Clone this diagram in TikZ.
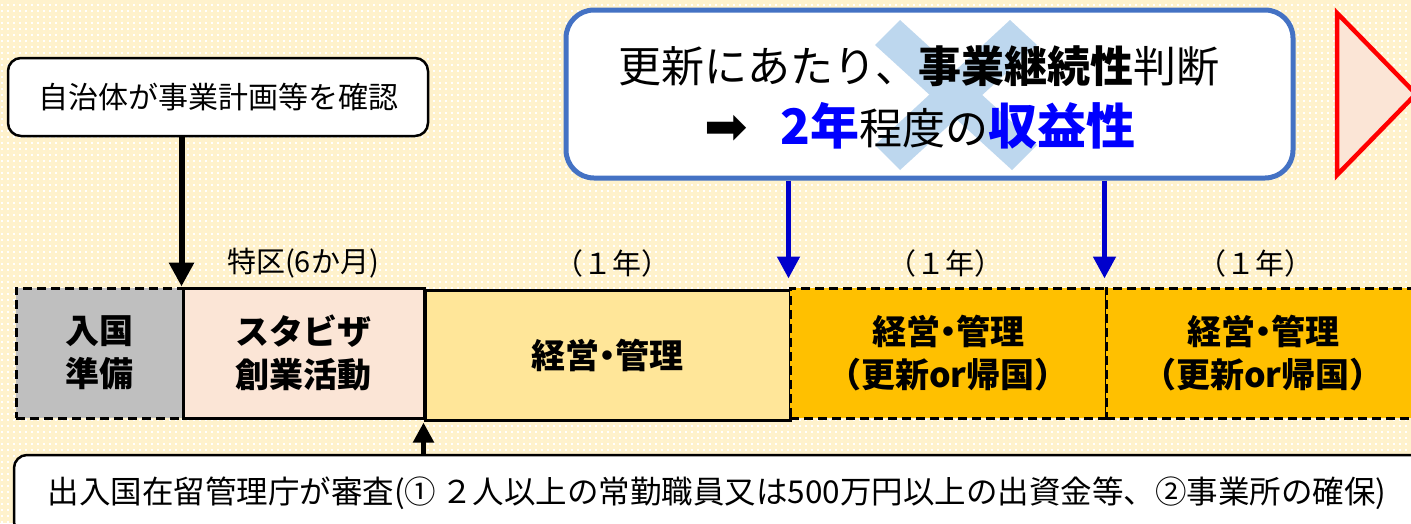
\documentclass[tikz,border=0pt]{standalone}
\usepackage{fontspec}
\setmainfont{Noto Sans CJK JP}
\newfontfamily\symfont{DejaVu Sans}
\usetikzlibrary{arrows.meta,patterns,calc}
\definecolor{bgy}{HTML}{FFF2CC}
\definecolor{greyfill}{HTML}{BFBFBF}
\definecolor{pinkfill}{HTML}{FBE5D6}
\definecolor{lightyel}{HTML}{FFE699}
\definecolor{orangefill}{HTML}{FFC000}
\definecolor{boxblue}{HTML}{4472C4}
\definecolor{arrblue}{HTML}{0000CC}
\definecolor{txtblue}{HTML}{0000FF}
\definecolor{xblue}{HTML}{BDD7EE}
\newcommand{\mdot}{\kern-9pt・\kern-9pt}
\pgfdeclarepatternformonly{wdots}{\pgfqpoint{0pt}{0pt}}{\pgfqpoint{3pt}{3pt}}{\pgfqpoint{6pt}{6pt}}{\pgfpathrectangle{\pgfqpoint{0.5pt}{0.5pt}}{\pgfqpoint{2pt}{2pt}}\pgfusepath{fill}}
\tikzset{
  tbox/.style={draw=black, line width=3pt, minimum height=130pt, align=center,
    inner sep=0pt, font=\fontsize{34}{43}\selectfont\bfseries},
  dashbox/.style={dash pattern=on 9pt off 5pt, line width=3pt},
  lbl/.style={font=\fontsize{29}{33}\selectfont, inner sep=0pt},
  noteb/.style={draw=black, line width=2.5pt, fill=white, rounded corners=13pt, inner sep=0pt},
  blkarrow/.style={line width=6pt, -{Triangle[width=24pt,length=24pt]}},
  bluearrow/.style={arrblue, line width=5pt, -{Triangle[width=22pt,length=22pt]}},
}
\begin{document}
\begin{tikzpicture}[x=1pt,y=-1pt]
\useasboundingbox (0,0) rectangle (1411,523);
\fill[bgy] (0,0) rectangle (1411,523);
\fill[pattern=wdots, pattern color=white] (0,0) rectangle (1411,523);
\clip (0,0) rectangle (1411,523);

% top-left note
\node[noteb, minimum width=420pt, minimum height=78pt] (city) at (218,97)
  {\fontsize{30}{36}\selectfont 自治体が事業計画等を確認};

% timeline boxes
\node[tbox, dashbox, fill=greyfill, minimum width=167pt] (prep) at (99.5,353) {入国\\準備};
\node[tbox, fill=pinkfill, minimum width=241pt] (startup) at (303.5,353) {スタビザ\\創業活動};
\node[tbox, fill=lightyel, minimum width=365pt] (mgmt) at (607.5,355) {経営\mdot 管理};
\node[tbox, dashbox, fill=orangefill, minimum width=316pt] (upd1) at (948,353) {経営\mdot 管理\\（更新or帰国）};
\node[tbox, dashbox, fill=orangefill, minimum width=314pt] (upd2) at (1263,353) {経営\mdot 管理\\（更新or帰国）};

% labels above
\node[lbl] (l0) at (303,263) {特区(6か月)};
\node[lbl] (l1) at (612,263) {（１年）};
\node[lbl] (l2) at (945,263) {（１年）};
\node[lbl] (l3) at (1255,263) {（１年）};

% top-right renewal box
\node[draw=boxblue, line width=5pt, fill=white, rounded corners=28pt,
  minimum width=727pt, minimum height=168pt] (renew) at (929.5,94) {};
\fill[xblue] (875,45) -- (900,20) -- (1037,145) -- (1012,170) -- cycle;
\fill[xblue] (1010,20) -- (1037,45) -- (900,170) -- (875,145) -- cycle;
\node[inner sep=0pt, font=\fontsize{43}{50}\selectfont] (r1) at (919,66)
  {更新にあたり、{\bfseries 事業継続性}判断};
\node[inner sep=0pt, font=\fontsize{43}{50}\selectfont] (r2) at (920,126)
  {{\symfont\fontsize{52}{56}\selectfont ➡}\hspace{32pt}{\fontsize{49}{54}\selectfont\bfseries\color{txtblue}2年}程度の{\fontsize{49}{54}\selectfont\bfseries\color{txtblue}収益性}};

% red triangle
\draw[red, line width=4.5pt, fill=pinkfill, line join=miter] (1337,13) -- (1337,175) -- (1416,94) -- cycle;

% bottom note
\node[noteb, minimum width=1410pt, minimum height=80pt] (exam) at (719,495) {};
\node[inner sep=0pt, font=\fontsize{31.5}{36}\selectfont] (examtxt) at (717,493)
  {出入国在留管理庁が審査(①\,２人以上の常勤職員又は500万円以上の出資金等、②事業所の確保)};

% arrows
\draw[blkarrow] (city.south -| startup.north west) -- (startup.north west);
\draw[blkarrow, line width=5pt, -{Triangle[width=20pt,length=20pt]}] (exam.north -| mgmt.south west) -- ([yshift=-1pt]mgmt.south west);
\draw[bluearrow, shorten >=8pt] (renew.south -| upd1.north west) -- (upd1.north west);
\draw[bluearrow, shorten >=8pt] (renew.south -| upd2.north west) -- (upd2.north west);
\end{tikzpicture}
\end{document}
